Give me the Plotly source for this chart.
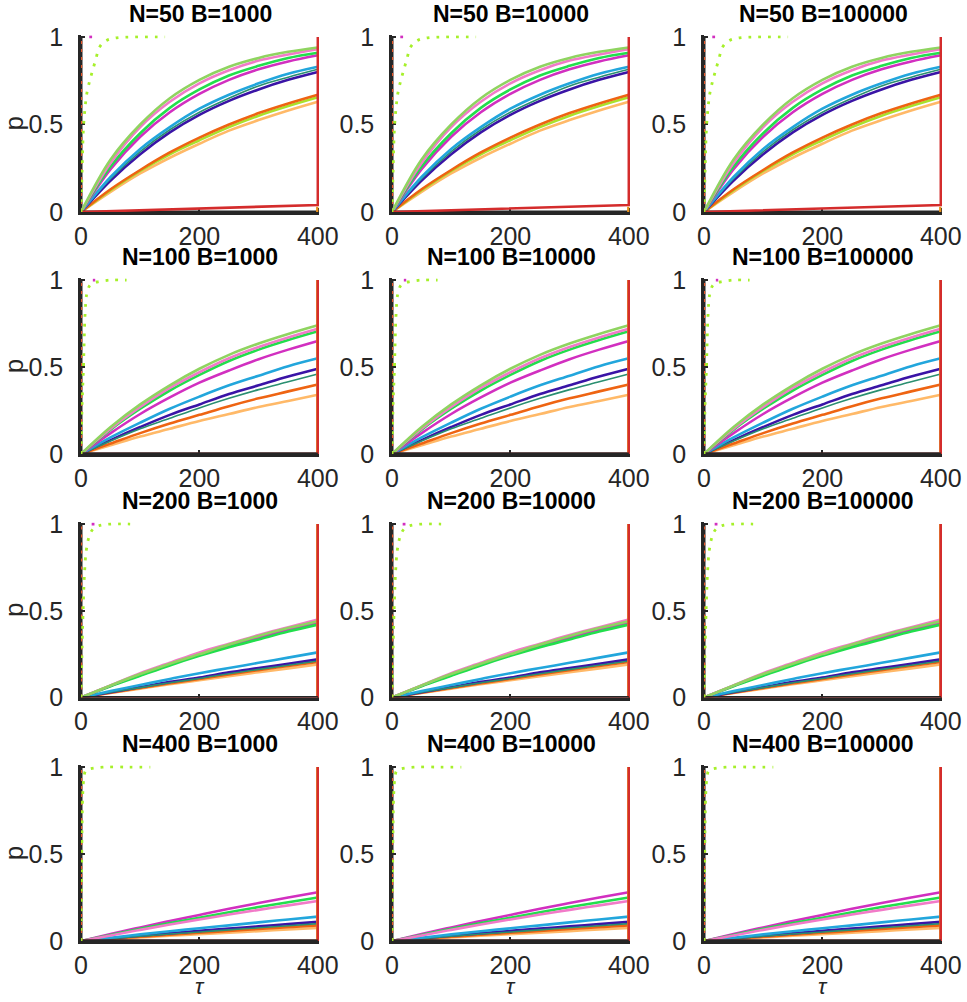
import plotly.graph_objects as go

# ---------------- data ----------------
N_VALUES = [50, 100, 200, 400]
B_VALUES = [1000, 10000, 100000]
TAU = [0, 50, 100, 150, 200, 250, 300, 350, 400]
X_TICKS = [0, 200, 400]
Y_TICKS = [0, 0.5, 1]
Y_TICK_TEXT = ["0", "0.5", "1"]

# one list per row (N=50, 100, 200, 400); None = not visible
P_LIGHTGREEN = [[0, .30, .50, .65, .755, .83, .88, .915, .94],
                [0, .155, .285, .395, .49, .57, .635, .69, .74],
                [0, .07, .135, .195, .25, .305, .355, .40, .44],
                None]
P_PINK = [[0, .28, .485, .63, .735, .81, .865, .90, .93],
          [0, .145, .27, .38, .47, .55, .615, .67, .72],
          [0, .07, .14, .20, .26, .31, .36, .405, .45],
          [0, .032, .064, .095, .124, .152, .179, .205, .23]]
P_GREEN = [[0, .26, .45, .595, .70, .78, .835, .88, .91],
           [0, .14, .26, .365, .455, .535, .60, .655, .705],
           [0, .065, .125, .185, .24, .29, .335, .38, .42],
           [0, .035, .07, .103, .134, .165, .195, .223, .25]]
P_MAGENTA = [[0, .245, .43, .57, .675, .755, .815, .86, .895],
             [0, .12, .23, .325, .41, .48, .545, .60, .65],
             [0, .068, .13, .19, .245, .30, .345, .39, .43],
             [0, .04, .078, .115, .15, .185, .218, .25, .28]]
P_CYAN = [[0, .20, .36, .485, .59, .67, .735, .79, .83],
          [0, .095, .18, .26, .33, .395, .45, .505, .55],
          [0, .037, .072, .107, .14, .17, .20, .23, .26],
          [0, .019, .038, .056, .073, .09, .107, .124, .14]]
P_TEAL = [[0, .19, .345, .47, .57, .65, .72, .77, .815],
          [0, .075, .145, .205, .265, .32, .37, .415, .46],
          [0, .03, .057, .085, .11, .137, .162, .186, .21],
          [0, .013, .027, .04, .052, .064, .076, .088, .10]]
P_NAVY = [[0, .18, .33, .455, .555, .635, .70, .755, .80],
          [0, .08, .155, .225, .285, .345, .395, .445, .49],
          [0, .03, .06, .09, .115, .145, .17, .195, .22],
          [0, .015, .03, .044, .058, .071, .084, .097, .11]]
P_ORANGE = [[0, .13, .24, .34, .425, .50, .565, .62, .67],
            [0, .06, .12, .175, .225, .275, .32, .36, .40],
            [0, .028, .055, .082, .107, .133, .158, .182, .205],
            [0, .012, .024, .036, .047, .058, .069, .08, .09]]
P_YELLOWGREEN = [[0, .125, .235, .33, .41, .485, .55, .605, .655],
                 None, None, None]
P_LIGHTORANGE = [[0, .115, .22, .31, .39, .465, .525, .58, .63],
                 [0, .05, .10, .145, .19, .23, .27, .305, .34],
                 [0, .026, .051, .076, .10, .123, .146, .168, .19],
                 [0, .01, .02, .03, .039, .048, .057, .066, .075]]
# red series: nearly flat, then a jump to 1 at tau=400
TAU_RED = [0, 50, 100, 150, 200, 250, 300, 350, 400, 400]
P_RED = [[0, .005, .01, .015, .02, .025, .03, .035, .04, 1],
         [0, 0, 0, 0, 0, 0, 0, 0, 0, 1],
         [0, 0, 0, 0, 0, 0, 0, 0, 0, 1],
         [0, 0, 0, 0, 0, 0, 0, 0, 0, 1]]
# orange vertical next to the red one at tau=400
TAU_EDGE = [399, 399]
P_EDGE = [[0, 0.03], [0, 1], [0, 1], [0, 1]]
# black baseline series
TAU_BASE = [0, 400]
P_BASE = [0, 0]
# dotted fast curves near tau = 0
TAU_FAST = [[0, 2, 4, 7, 10, 14, 18, 24, 32, 43, 60, 90, 142],
            [0, 2, 4, 7, 10, 15, 22, 29, 50, 77],
            [0, 2, 4, 6, 9, 14, 20, 30, 50, 83],
            [0, 1, 2, 3, 5, 8, 15, 40, 80, 117]]
P_FAST = [[0, .25, .47, .6, .68, .74, .79, .86, .945, .98, .995, 1, 1],
          [0, .3, .48, .81, .925, .97, .985, .99, 1, 1],
          [0, .3, .55, .72, .85, .93, .97, .99, 1, 1],
          [0, .4, .7, .85, .94, .98, .99, 1, 1, 1]]
TAU_MAG_DOT = [[14, 19], [20, 24], [18, 23], None]
P_MAG_DOT = [[1, 1], [1, 1], [1, 1], None]
TAU_ZERO = [0, 0]
P_ZERO = [0, 1]

COLORS = {
    "lightorange": "#ffb968", "yellowgreen": "#a9e22c", "orange": "#ee6412",
    "navy": "#3a14a6", "teal": "#2a8f70", "cyan": "#22a6dc",
    "magenta": "#d22fc0", "green": "#22de4c", "pink": "#f27ac8",
    "lightgreen": "#8fd460", "red": "#d42c2c", "fast": "#a6f02a",
    "zero": "#e8582a", "edge": "#e8901a", "axis": "#262626",
}
SERIES = [("lightorange", P_LIGHTORANGE), ("yellowgreen", P_YELLOWGREEN),
          ("orange", P_ORANGE), ("navy", P_NAVY), ("teal", P_TEAL),
          ("cyan", P_CYAN), ("magenta", P_MAGENTA), ("green", P_GREEN),
          ("pink", P_PINK), ("lightgreen", P_LIGHTGREEN)]

# ---------------- layout geometry (pixels) ----------------
W, H = 967, 1002
COL_PX = [(81, 319), (392, 630), (704, 942)]
ROW_PX = [(35.2, 212), (278.3, 454), (522.3, 697.5), (765.3, 941)]

fig = go.Figure()
FONT = "Liberation Sans, Arial, Helvetica, sans-serif"
annotations = []


def line(x, y, xa, ya, **kw):
    fig.add_trace(go.Scatter(x=x, y=y, mode="lines", line=kw, xaxis=xa, yaxis=ya,
                             showlegend=False, hoverinfo="skip"))


for r, n in enumerate(N_VALUES):
    for c, b in enumerate(B_VALUES):
        idx = r * 3 + c + 1
        xa = "x" if idx == 1 else f"x{idx}"
        ya = "y" if idx == 1 else f"y{idx}"
        # black vertical at tau=0 (under the dotted line)
        line(TAU_ZERO, P_ZERO, xa, ya, color=COLORS["axis"], width=3)
        # smooth curves
        for name, data in SERIES:
            vals = data[r]
            if vals is None:
                continue
            width = 1.6 if name == "teal" else 2.6
            line(TAU, vals, xa, ya, color=COLORS[name], width=width, shape="spline")
        # black baseline, orange edge, red series with jump
        line(TAU_BASE, P_BASE, xa, ya, color=COLORS["axis"], width=3)
        line(TAU_EDGE, P_EDGE[r], xa, ya, color=COLORS["edge"], width=2.2)
        line(TAU_RED, P_RED[r], xa, ya, color=COLORS["red"], width=2.6)
        if r > 0:
            line(TAU_BASE, P_BASE, xa, ya, color=COLORS["axis"], width=3)
        # dotted vertical at tau=0
        line(TAU_ZERO, P_ZERO, xa, ya, color=COLORS["zero"], width=2.4, dash="3px,5px")
        # fast dotted curve
        line(TAU_FAST[r], P_FAST[r], xa, ya, color=COLORS["fast"], width=2.8,
             dash="2.8px,7px", shape="spline")
        if TAU_MAG_DOT[r] is not None:
            line(TAU_MAG_DOT[r], P_MAG_DOT[r], xa, ya, color=COLORS["magenta"],
                 width=2.8, dash="2.8px,7px")

        x0, x1 = COL_PX[c]
        y0, y1 = ROW_PX[r]
        xdom = [x0 / W, x1 / W]
        ydom = [1 - y1 / H, 1 - y0 / H]
        axis_common = dict(showline=True, linecolor=COLORS["axis"], linewidth=2.5,
                           ticks="inside", ticklen=4, tickcolor=COLORS["axis"], tickwidth=1.5,
                           showgrid=False, zeroline=False, mirror=False, layer="below traces",
                           automargin=False,
                           tickfont=dict(family=FONT, size=25, color=COLORS["axis"]))
        fig.layout[("xaxis" if idx == 1 else f"xaxis{idx}")] = dict(
            domain=xdom, range=[0, 402], anchor=ya, tickvals=X_TICKS,
            ticktext=[str(t) for t in X_TICKS], **axis_common)
        fig.layout[("yaxis" if idx == 1 else f"yaxis{idx}")] = dict(
            domain=ydom, range=[0, 1.01], anchor=xa, tickvals=Y_TICKS,
            ticktext=Y_TICK_TEXT, ticklabelstandoff=10, **axis_common)

        # subplot title
        annotations.append(dict(text=f"<b>N={n} B={b}</b>", x=(x0 + x1) / 2 / W,
                                y=1 - (y0 - 21) / H, xref="paper", yref="paper",
                                xanchor="center", yanchor="middle", showarrow=False,
                                font=dict(family=FONT, size=23, color="#000000")))
        if c == 0:
            annotations.append(dict(text="p", x=14 / W, y=1 - (y0 + y1) / 2 / H,
                                    xref="paper", yref="paper", textangle=-90,
                                    xanchor="center", yanchor="middle", showarrow=False,
                                    font=dict(family=FONT, size=26, color=COLORS["axis"])))
        if r == len(N_VALUES) - 1:
            annotations.append(dict(text="<i>τ</i>", x=(x0 + x1) / 2 / W, y=1 - 986 / H,
                                    xref="paper", yref="paper", xanchor="center",
                                    yanchor="middle", showarrow=False,
                                    font=dict(family=FONT, size=22, color=COLORS["axis"])))

fig.update_layout(width=W, height=H,
                  margin=dict(l=0, r=0, t=0, b=0, autoexpand=False),
                  paper_bgcolor="white", plot_bgcolor="white",
                  annotations=annotations, showlegend=False)
fig.write_html("out.html")
